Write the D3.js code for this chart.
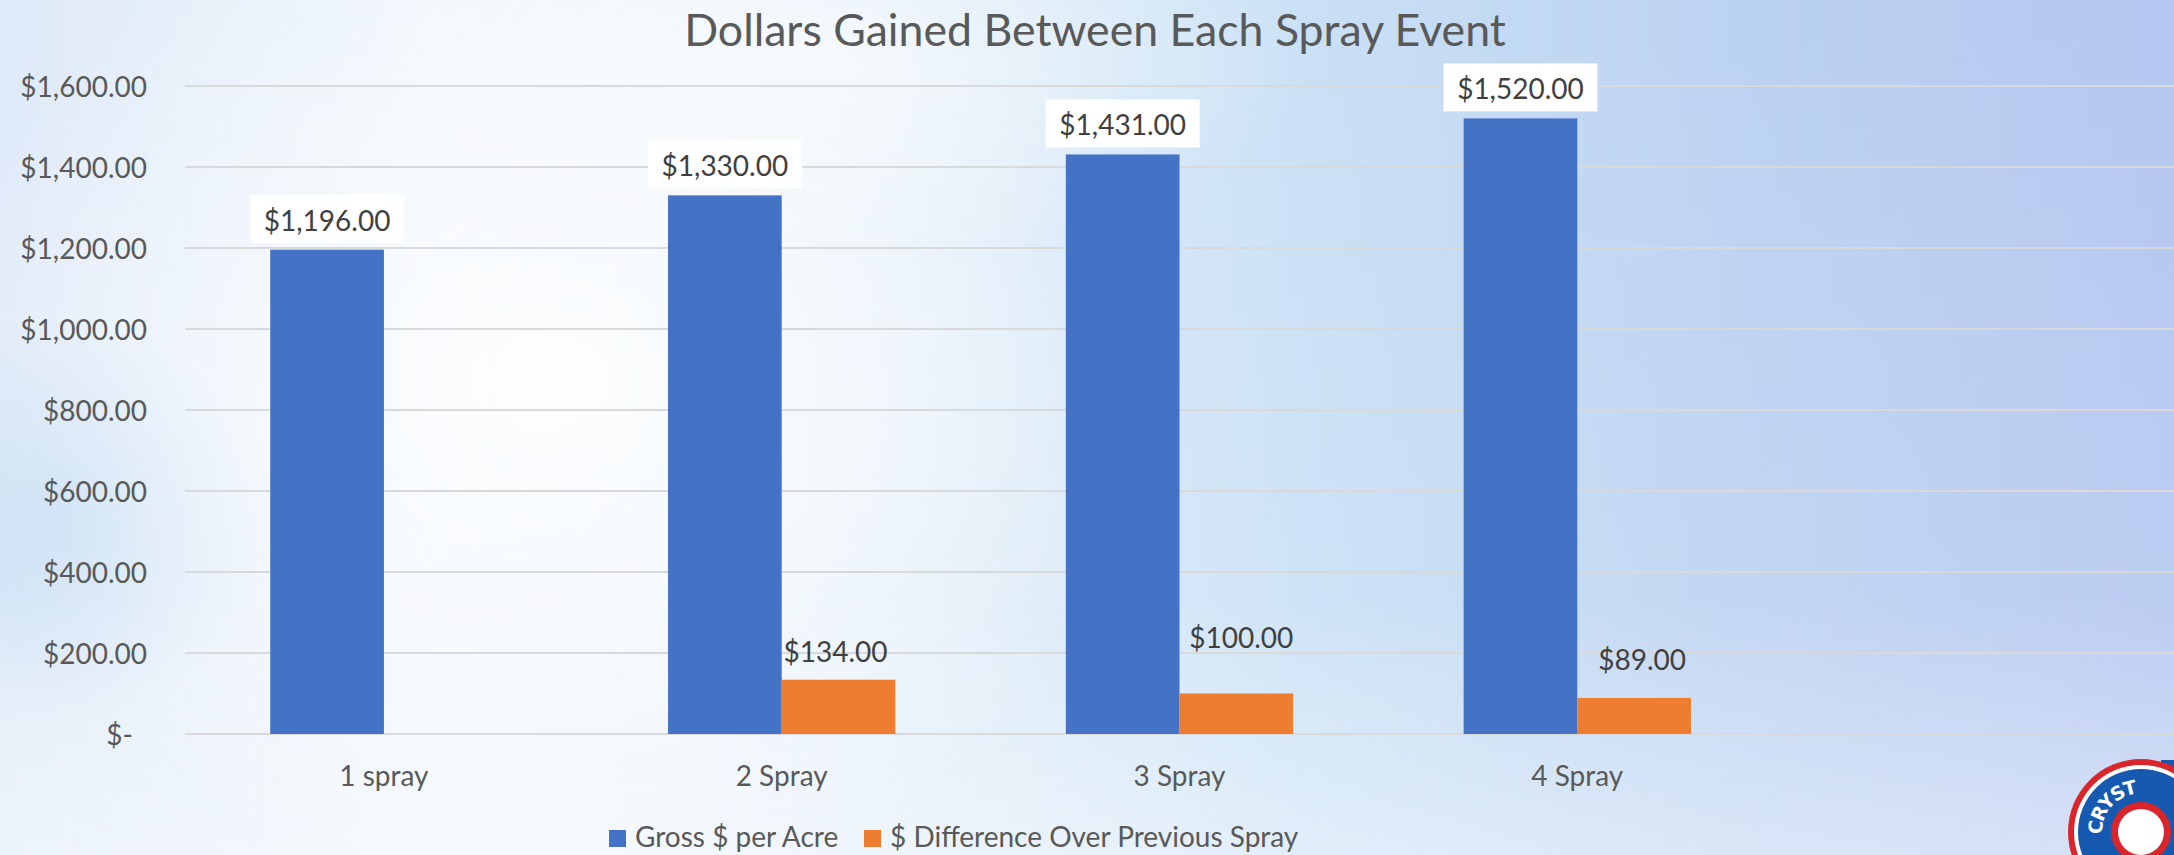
<!DOCTYPE html>
<html><head><meta charset="utf-8">
<script src="https://cdn.jsdelivr.net/npm/d3@7"></script>
<style>body{margin:0;overflow:hidden;background:#fff} svg{display:block}</style>
</head><body>
<svg id="chart" width="2174" height="855"></svg>
<script>
// ---- data ----
const categories = ["1 spray", "2 Spray", "3 Spray", "4 Spray", ""];
const grossPerAcre = [1196, 1330, 1431, 1520, null];
const diffOverPrevious = [null, 134, 100, 89, null];
const yTickValues = [0, 200, 400, 600, 800, 1000, 1200, 1400, 1600];
const seriesNames = ["Gross $ per Acre", "$ Difference Over Previous Spray"];
const chartTitle = "Dollars Gained Between Each Spray Event";

// ---- layout / style constants ----
const W = 2174, H = 855;
const plot = {left: 185, right: 2174, top: 86, bottom: 734};
const colors = ["#4472C4", "#ED7D31"];
const font = "Lato, 'Open Sans', 'Liberation Sans', sans-serif";
// manual label nudges for the orange series (as placed in the original)
const orangeLabelDx = [0, -3, 5, 8, 0];
const orangeLabelLift = [0, 18, 46, 28, 0];

const svg = d3.select("#chart");
const defs = svg.append("defs");

// ---- background sky ----
const lg = defs.append("linearGradient").attr("id", "sky").attr("x1", 0).attr("y1", 0).attr("x2", 1).attr("y2", 0);
[[0, "#dfeaf8"], [0.2, "#eef5fc"], [0.4, "#e3eff9"], [0.6, "#c9e0f5"], [0.8, "#bcd2f1"], [1, "#b4c7f0"]]
  .forEach(([o, c]) => lg.append("stop").attr("offset", o).attr("stop-color", c));
const rg = defs.append("radialGradient").attr("id", "glow").attr("cx", 0.5).attr("cy", 0.5).attr("r", 0.5);
[[0, "#ffffff", 0.85], [0.5, "#ffffff", 0.5], [1, "#ffffff", 0]]
  .forEach(([o, c, op]) => rg.append("stop").attr("offset", o).attr("stop-color", c).attr("stop-opacity", op));
const vg = defs.append("linearGradient").attr("id", "haze").attr("x1", 0).attr("y1", 0).attr("x2", 0).attr("y2", 1);
[[0, "#ffffff", 0], [0.7, "#ffffff", 0.1], [1, "#ffffff", 0.45]]
  .forEach(([o, c, op]) => vg.append("stop").attr("offset", o).attr("stop-color", c).attr("stop-opacity", op));
const bluePatch = defs.append("radialGradient").attr("id", "patch").attr("cx", 0.5).attr("cy", 0.5).attr("r", 0.5);
[[0, "#b9d6f1", 0.7], [1, "#b9d6f1", 0]]
  .forEach(([o, c, op]) => bluePatch.append("stop").attr("offset", o).attr("stop-color", c).attr("stop-opacity", op));

svg.append("rect").attr("width", W).attr("height", H).attr("fill", "url(#sky)");
svg.append("ellipse").attr("cx", 60).attr("cy", 520).attr("rx", 220).attr("ry", 200).attr("fill", "url(#patch)");
svg.append("ellipse").attr("cx", 560).attr("cy", 380).attr("rx", 620).attr("ry", 520).attr("fill", "url(#glow)");
svg.append("ellipse").attr("cx", 820).attr("cy", 60).attr("rx", 500).attr("ry", 200).attr("fill", "url(#glow)").attr("opacity", 0.6);
svg.append("rect").attr("width", W).attr("height", H).attr("fill", "url(#haze)");

// ---- scales ----
const x0 = d3.scaleBand().domain(categories).range([plot.left, plot.right]).paddingInner(0).paddingOuter(0);
const x1 = d3.scaleBand().domain(seriesNames).range([0, x0.bandwidth()]).paddingInner(0).paddingOuter(0.75);
const y = d3.scaleLinear().domain([0, 1600]).range([plot.bottom, plot.top]);

// ---- gridlines ----
svg.append("g").selectAll("line").data(yTickValues).join("line")
  .attr("x1", plot.left).attr("x2", plot.right)
  .attr("y1", d => y(d)).attr("y2", d => y(d))
  .attr("stroke", "#d9d9d9").attr("stroke-width", 2.2);

// ---- y axis labels ----
const fmt = d => d === 0 ? "$-" : d3.format("$,.2f")(d);
const yAxis = d3.axisLeft(y).tickValues(yTickValues).tickFormat(fmt).tickSize(0).tickPadding(0);
const gy = svg.append("g").attr("transform", `translate(147,0)`).call(yAxis);
gy.select(".domain").remove();
gy.selectAll("text")
  .attr("font-family", font).attr("font-size", 28).attr("fill", "#595959")
  .attr("dy", "0.36em")
  .attr("dx", d => d === 0 ? -14 : 0);

// ---- x axis labels ----
const xAxis = d3.axisBottom(x0).tickSize(0).tickPadding(0);
const gx = svg.append("g").attr("transform", `translate(0,786)`).call(xAxis);
gx.select(".domain").remove();
gx.selectAll("text").attr("font-family", font).attr("font-size", 28).attr("fill", "#595959").attr("dy", 0);

// ---- bars ----
const seriesData = [grossPerAcre, diffOverPrevious];
seriesData.forEach((vals, si) => {
  svg.append("g").selectAll("rect")
    .data(categories.map((c, i) => ({c, v: vals[i], i})).filter(d => d.v != null))
    .join("rect")
    .attr("x", d => x0(d.c) + x1(seriesNames[si]))
    .attr("width", x1.bandwidth())
    .attr("y", d => y(d.v))
    .attr("height", d => y(0) - y(d.v))
    .attr("fill", colors[si]);
});

// ---- data labels: gross (white boxed) ----
const gl = svg.append("g").selectAll("g")
  .data(categories.map((c, i) => ({c, v: grossPerAcre[i]})).filter(d => d.v != null))
  .join("g")
  .attr("transform", d => `translate(${x0(d.c) + x1(seriesNames[0]) + x1.bandwidth() / 2},${y(d.v) - 7})`);
gl.append("rect").attr("x", -77).attr("y", -48).attr("width", 154).attr("height", 48).attr("fill", "#ffffff");
gl.append("text").attr("text-anchor", "middle").attr("y", -12)
  .attr("font-family", font).attr("font-size", 28).attr("fill", "#404040")
  .text(d => d3.format("$,.2f")(d.v));

// ---- data labels: difference ----
svg.append("g").selectAll("text")
  .data(categories.map((c, i) => ({c, v: diffOverPrevious[i], i})).filter(d => d.v != null))
  .join("text")
  .attr("text-anchor", "middle")
  .attr("x", d => x0(d.c) + x1(seriesNames[1]) + x1.bandwidth() / 2 + orangeLabelDx[d.i])
  .attr("y", d => y(d.v) - orangeLabelLift[d.i])
  .attr("font-family", font).attr("font-size", 28).attr("fill", "#404040")
  .text(d => d3.format("$,.2f")(d.v));

// ---- title ----
const t = svg.append("text").attr("x", 1095).attr("y", 46).attr("text-anchor", "middle")
  .attr("font-family", font).attr("font-size", 42).attr("fill", "#595959").text(chartTitle);
const tw = t.node().getComputedTextLength();
t.attr("font-size", 42 * 822 / tw);

// ---- legend ----
const legendItems = [{name: seriesNames[0], x: 609}, {name: seriesNames[1], x: 864}];
const lgG = svg.append("g").selectAll("g").data(legendItems).join("g")
  .attr("transform", d => `translate(${d.x},0)`);
lgG.append("rect").attr("y", 830).attr("width", 17).attr("height", 17).attr("fill", (d, i) => colors[i]);
lgG.append("text").attr("x", 26).attr("y", 847)
  .attr("font-family", font).attr("font-size", 28).attr("fill", "#595959").text(d => d.name);

// ---- logo (partially visible, bottom right) ----
const logo = svg.append("g").attr("transform", "translate(2141,832)");
logo.append("rect").attr("x", 20).attr("y", -72).attr("width", 40).attr("height", 100).attr("fill", "#1559b0");
logo.append("circle").attr("r", 73).attr("fill", "#d9262c");
logo.append("circle").attr("r", 67).attr("fill", "#ffffff");
logo.append("circle").attr("r", 63).attr("fill", "#1559b0");
defs.append("path").attr("id", "logoArc").attr("d", "M -45 2 A 45 45 0 0 1 28 -35");
logo.append("text").attr("font-family", "'DejaVu Sans', sans-serif").attr("font-weight", "bold")
  .attr("font-size", 19).attr("fill", "#ffffff").attr("dy", 6)
  .append("textPath").attr("href", "#logoArc").text("CRYST");
logo.append("circle").attr("r", 30).attr("fill", "#d9262c");
logo.append("circle").attr("r", 23).attr("fill", "#ffffff");
</script>
</body></html>
